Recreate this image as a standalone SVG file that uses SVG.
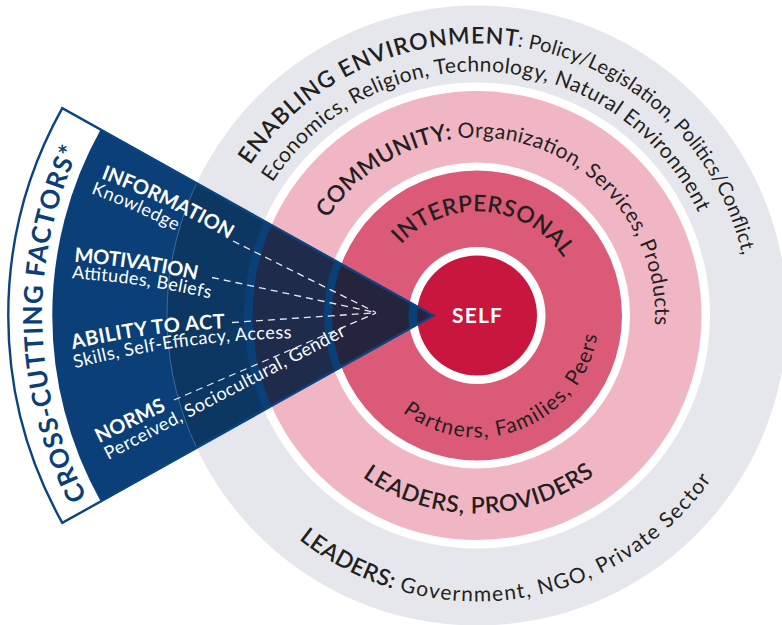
<svg xmlns="http://www.w3.org/2000/svg" width="782" height="625" viewBox="0 0 782 625">
<defs>
<style>
.cap{font-family:Lato,"Open Sans","DejaVu Sans",sans-serif;font-weight:600;font-size:23px;fill:#231F20}
.reg{font-family:Lato,"Open Sans","DejaVu Sans",sans-serif;font-weight:400;font-size:21px;fill:#231F20}
.reg20{font-family:Lato,"Open Sans","DejaVu Sans",sans-serif;font-weight:400;font-size:20px;fill:#231F20}
.wt{font-family:Lato,"Open Sans","DejaVu Sans",sans-serif;font-weight:700;font-size:20px;fill:#FFFFFF}
.ws{font-family:Lato,"Open Sans","DejaVu Sans",sans-serif;font-weight:400;font-size:18px;fill:#FFFFFF}
.ccf{font-family:Lato,"Open Sans","DejaVu Sans",sans-serif;font-weight:700;font-size:26px;fill:#0B3F78}
.self{font-family:Lato,"Open Sans","DejaVu Sans",sans-serif;font-weight:700;font-size:21px;fill:#FFFFFF}
.dash{fill:none;stroke:#E6EBF2;stroke-width:1.3;stroke-dasharray:7 5}
.gap{fill:#FFFFFF}
</style>
<path id="p-t1" d="M205 315.5 A272 272 0 0 1 749 315.5"/>
<path id="p-t2" d="M233 315.5 A244 244 0 0 1 721 315.5"/>
<path id="p-t3" d="M299 315.5 A178 178 0 1 1 631.15 404.5"/>
<path id="p-t4" d="M373 315.5 A104 104 0 0 1 581 315.5"/>
<path id="p-b1" d="M355 315.5 A122 122 0 0 0 599 315.5"/>
<path id="p-b2" d="M279 315.5 A198 198 0 0 0 675 315.5"/>
<path id="p-b3" d="M191 315.5 A286 286 0 0 0 763 315.5"/>
<path id="p-ccf" d="M92 506.3 A391 391 0 0 1 92 124.7"/>
<path id="p-info" d="M100.7 178.3 A800 800 0 0 1 229 239.5"/>
<path id="p-know" d="M90.7 193.3 A800 800 0 0 1 176 231"/>
<path id="p-mot" d="M74 261.7 A900 900 0 0 1 197 280"/>
<path id="p-att" d="M71.7 278.3 A900 900 0 0 1 210 298.3"/>
<path id="p-abil" d="M72.7 349.3 A800 800 0 0 1 225 328.3"/>
<path id="p-skill" d="M75 368.3 A900 900 0 0 1 291.7 338.3"/>
<path id="p-norms" d="M99.3 443.3 L166.7 410"/>
<path id="p-perc" d="M108.3 460 L346.7 335"/>
<clipPath id="wedge-clip"><path d="M433.3 315.5 L100.7 129.6 A381 381 0 0 0 100.7 501.4 Z"/></clipPath>
</defs>

<g id="enabling-environment">
<circle cx="477" cy="315.5" r="310" fill="#E6E7EC"/>
<circle class="gap" cx="477" cy="315.5" r="233"/>
<text class="cap"><textPath href="#p-t1" startOffset="159" textLength="308.6">ENABLING ENVIRONMENT</textPath></text>
<text class="reg20"><textPath href="#p-t1" startOffset="467.6" textLength="326">: Policy/Legislation, Politics/Conflict,</textPath></text>
<text class="reg"><textPath href="#p-t2" startOffset="140.5" textLength="519.5">Economics, Religion, Technology, Natural Environment</textPath></text>
<text class="cap"><textPath href="#p-b3" startOffset="256.6" textLength="106.8">LEADERS:</textPath></text>
<text class="reg"><textPath href="#p-b3" startOffset="363.4" textLength="360">&#160;Government, NGO, Private Sector</textPath></text>
</g>

<g id="community">
<circle cx="477" cy="315.5" r="224.5" fill="#F1B6C4"/>
<circle class="gap" cx="477" cy="315.5" r="153"/>
<text class="cap"><textPath href="#p-t3" startOffset="102.5" textLength="152.2">COMMUNITY:</textPath></text>
<text class="reg"><textPath href="#p-t3" startOffset="254.7" textLength="313.8">&#160;Organization, Services, Products</textPath></text>
<text class="cap"><textPath href="#p-b2" startOffset="188.7" textLength="248.1">LEADERS, PROVIDERS</textPath></text>
</g>

<g id="interpersonal">
<circle cx="477" cy="315.5" r="145" fill="#DB5A78"/>
<circle class="gap" cx="477" cy="315.5" r="68.5"/>
<text class="cap"><textPath href="#p-t4" startOffset="78" textLength="187">INTERPERSONAL</textPath></text>
<text class="reg"><textPath href="#p-b1" startOffset="111.4" textLength="251.7">Partners, Families, Peers</textPath></text>
</g>

<g id="self">
<circle cx="477" cy="315.5" r="60" fill="#C8163E"/>
<text class="self" x="477" y="322.7" text-anchor="middle" textLength="50">SELF</text>
</g>

<g id="cross-cutting-factors">
<path d="M433.3 315.5 L62.3 108.1 A425 425 0 0 0 62.3 522.9 Z" fill="#FFFFFF"/>
<g clip-path="url(#wedge-clip)">
<rect x="0" y="0" width="782" height="625" fill="#0B3F78"/>
<circle cx="477" cy="315.5" r="310" fill="#0C3762"/>
<circle cx="477" cy="315.5" r="233" fill="#0B3F78"/>
<circle cx="477" cy="315.5" r="224.5" fill="#1E2B4B"/>
<circle cx="477" cy="315.5" r="153" fill="#0B3F78"/>
<circle cx="477" cy="315.5" r="145" fill="#24243C"/>
<circle cx="477" cy="315.5" r="68.5" fill="#0B3F78"/>
<circle cx="477" cy="315.5" r="60" fill="#2B2140"/>
<circle cx="477" cy="315.5" r="310" fill="none" stroke="#7F9CC0" stroke-width="0.8" opacity="0.6"/>
</g>
<path d="M433.3 315.5 L62.3 108.1 A425 425 0 0 0 62.3 522.9 Z" fill="none" stroke="#0B4580" stroke-width="2.4"/>
<text class="ccf"><textPath href="#p-ccf" startOffset="10.6" textLength="359.3">CROSS-CUTTING FACTORS*</textPath></text>
<g id="information">
<text class="wt"><textPath href="#p-info" textLength="142">INFORMATION</textPath></text>
<text class="ws"><textPath href="#p-know" textLength="93">Knowledge</textPath></text>
</g>
<g id="motivation">
<text class="wt"><textPath href="#p-mot" textLength="124">MOTIVATION</textPath></text>
<text class="ws"><textPath href="#p-att" textLength="140">Attitudes, Beliefs</textPath></text>
</g>
<g id="ability-to-act">
<text class="wt"><textPath href="#p-abil" textLength="154">ABILITY TO ACT</textPath></text>
<text class="ws"><textPath href="#p-skill" textLength="219">Skills, Self-Efficacy, Access</textPath></text>
</g>
<g id="norms">
<text class="wt"><textPath href="#p-norms" textLength="75">NORMS</textPath></text>
<text class="ws"><textPath href="#p-perc" textLength="269">Perceived, Sociocultural, Gender</textPath></text>
</g>
</g>

<g id="connectors">
<path class="dash" d="M233 241 L376 312.5"/>
<path class="dash" d="M212 277.5 L376 312.5"/>
<path class="dash" d="M232 322.5 L373 313"/>
<path class="dash" d="M174 400 L376 313"/>
</g>
</svg>
